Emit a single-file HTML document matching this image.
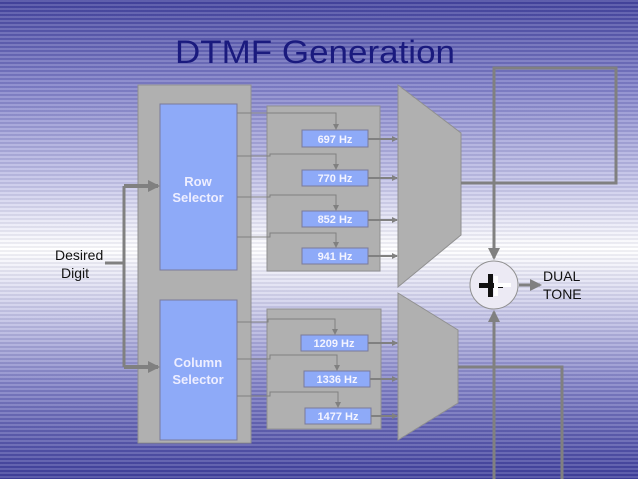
<!DOCTYPE html>
<html><head><style>
html,body{margin:0;padding:0;}
body{width:638px;height:479px;overflow:hidden;position:relative;
background:linear-gradient(to bottom,#44449e 0%,#8080c8 18%,#c4c4e8 38%,#ffffff 52%,#c4c4e6 66%,#8282c6 80%,#40409c 100%);}
.str{position:absolute;left:0;top:0;width:638px;height:479px;
background:repeating-linear-gradient(to bottom,rgba(255,255,255,0.14) 0px,rgba(255,255,255,0.14) 2px,rgba(0,0,60,0.06) 2px,rgba(0,0,60,0.06) 4px);}
svg{position:absolute;left:0;top:0;}
</style></head><body>
<div class="str"></div>
<svg width="638" height="479" xmlns="http://www.w3.org/2000/svg" font-family="Liberation Sans, sans-serif">
<defs>
<marker id="a" markerWidth="6" markerHeight="6" refX="5" refY="3" orient="auto" markerUnits="userSpaceOnUse"><path d="M0,0 L6,3 L0,6 z" fill="#808080"/></marker>
<marker id="b" markerWidth="12" markerHeight="12" refX="10" refY="6" orient="auto" markerUnits="userSpaceOnUse"><path d="M0,0 L12,6 L0,12 z" fill="#808080"/></marker>
</defs>
<text x="175" y="63" font-size="32" fill="#1a1a7e" textLength="280" lengthAdjust="spacingAndGlyphs">DTMF Generation</text>
<rect x="138" y="85" width="113" height="358" fill="#b0b0b0" stroke="#909090"/>
<rect x="160" y="104" width="77" height="166" fill="#8eaaf8" stroke="#7a7a9a"/>
<rect x="160" y="300" width="77" height="140" fill="#8eaaf8" stroke="#7a7a9a"/>
<text x="198" y="186" font-size="13" font-weight="bold" fill="#eef" text-anchor="middle">Row</text>
<text x="198" y="202" font-size="13" font-weight="bold" fill="#eef" text-anchor="middle">Selector</text>
<text x="198" y="367" font-size="13" font-weight="bold" fill="#eef" text-anchor="middle">Column</text>
<text x="198" y="384" font-size="13" font-weight="bold" fill="#eef" text-anchor="middle">Selector</text>
<rect x="267" y="106" width="113" height="165" fill="#b0b0b0" stroke="#909090"/>
<rect x="267" y="309" width="114" height="120" fill="#b0b0b0" stroke="#909090"/>
<g fill="#8eaaf8" stroke="#7a7a9a">
<rect x="302" y="130" width="66" height="17"/><rect x="302" y="170" width="66" height="16"/>
<rect x="302" y="211" width="66" height="16"/><rect x="302" y="248" width="66" height="16"/>
<rect x="301" y="335" width="67" height="16"/><rect x="304" y="371" width="66" height="16"/>
<rect x="305" y="408" width="66" height="16"/>
</g>
<g font-size="11" font-weight="bold" fill="#f4f4ff" text-anchor="middle">
<text x="335" y="143">697 Hz</text><text x="335" y="182">770 Hz</text>
<text x="335" y="223">852 Hz</text><text x="335" y="260">941 Hz</text>
<text x="334" y="347">1209 Hz</text><text x="337" y="383">1336 Hz</text>
<text x="338" y="420">1477 Hz</text>
</g>
<g fill="none" stroke="#808080" stroke-width="1">
<path d="M237,113 H336 V129" marker-end="url(#a)"/>
<path d="M237,156 H270 V154 H336 V169" marker-end="url(#a)"/>
<path d="M237,197 H270 V195 H336 V210" marker-end="url(#a)"/>
<path d="M237,237 H270 V233 H336 V247" marker-end="url(#a)"/>
<path d="M237,322 H268 V319 H335 V334" marker-end="url(#a)"/>
<path d="M237,359 H270 V355 H337 V370" marker-end="url(#a)"/>
<path d="M237,396 H270 V392 H338 V407" marker-end="url(#a)"/>
</g>
<g stroke="#808080" stroke-width="2" fill="none">
<path d="M368,139 H397" marker-end="url(#a)"/><path d="M368,178 H397" marker-end="url(#a)"/>
<path d="M368,220 H397" marker-end="url(#a)"/><path d="M368,256 H397" marker-end="url(#a)"/>
<path d="M368,343 H397" marker-end="url(#a)"/><path d="M370,379 H397" marker-end="url(#a)"/>
<path d="M371,416 H397" marker-end="url(#a)"/>
</g>
<polygon points="398,85 461,133 461,235 398,287" fill="#b0b0b0" stroke="#909090"/>
<polygon points="398,293 458,330 458,403 398,440" fill="#b0b0b0" stroke="#909090"/>
<g fill="none" stroke="#808080" stroke-width="3">
<path d="M461,183 H616 V68 H494 V258" marker-end="url(#b)"/>
<path d="M458,367 H562 V479"/>
<path d="M494,479 V312" marker-end="url(#b)"/>
<path d="M519,285 H540" marker-end="url(#b)"/>
<path d="M105,263 H124 M124,186 V367" />
</g>
<path d="M124,186 H158" stroke="#808080" stroke-width="4" marker-end="url(#b)"/>
<path d="M124,367 H158" stroke="#808080" stroke-width="4" marker-end="url(#b)"/>
<circle cx="494" cy="285" r="24" fill="#eceaf4" stroke="#909090"/>
<rect x="479" y="283" width="24" height="5" fill="#111"/>
<rect x="488" y="274" width="5" height="23" fill="#111"/>
<rect x="494" y="276" width="4" height="20" fill="#fff"/>
<rect x="498" y="283" width="13" height="4" fill="#fff"/>
<text x="543" y="281" font-size="14" fill="#111">DUAL</text>
<text x="543" y="299" font-size="14" fill="#111">TONE</text>
<text x="55" y="260" font-size="14" fill="#111">Desired</text>
<text x="61" y="278" font-size="14" fill="#111">Digit</text>
</svg>
</body></html>
